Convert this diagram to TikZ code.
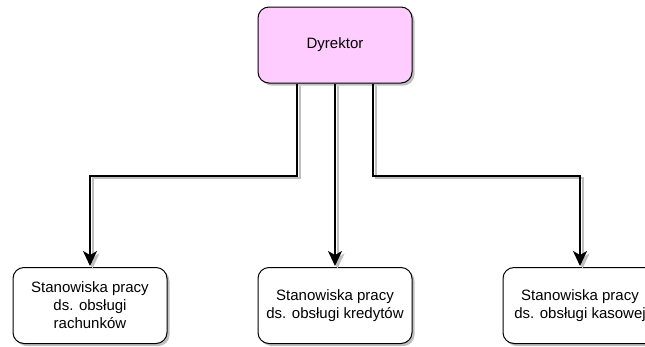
\documentclass[tikz,border=0pt]{standalone}
\usepackage{fontspec}
\setmainfont{Liberation Sans}
\usetikzlibrary{arrows.meta,shadows}
\definecolor{dirpink}{HTML}{FFCCFF}
\definecolor{shadowgray}{HTML}{BFBFBF}
\begin{document}
\begin{tikzpicture}[x=1pt,y=-1pt,
  box/.style={draw, rounded corners=11pt, minimum width=154pt, minimum height=76pt,
    align=center, font=\fontsize{15}{18}\selectfont, line width=1pt, fill=white,
    drop shadow={shadow xshift=2.5pt, shadow yshift=-2.5pt, fill=shadowgray, opacity=1}},
  conn/.style={line width=2pt, -{Stealth[length=15pt,width=14pt,inset=4pt]}, shorten >=1pt,
    preaction={draw=shadowgray, line width=2pt, transform canvas={xshift=2.5pt,yshift=-2.5pt}}}
]
\useasboundingbox (0,0) rectangle (645,346);
\node[box, fill=dirpink] (dir) at (335,45) {Dyrektor};
\node[box] (a) at (90,305.5) {Stanowiska pracy\\ds. obsługi\\rachunków};
\node[box] (b) at (335,305.5) {Stanowiska pracy\\ds. obsługi kredytów};
\node[box] (c) at (580,305.5) {Stanowiska pracy\\ds. obsługi kasowej};
\draw[conn] ([xshift=-38pt]dir.south) -- ++(0,92) -| (a.north);
\draw[conn] (dir.south) -- (b.north);
\draw[conn] ([xshift=38pt]dir.south) -- ++(0,92) -| (c.north);
\end{tikzpicture}
\end{document}
